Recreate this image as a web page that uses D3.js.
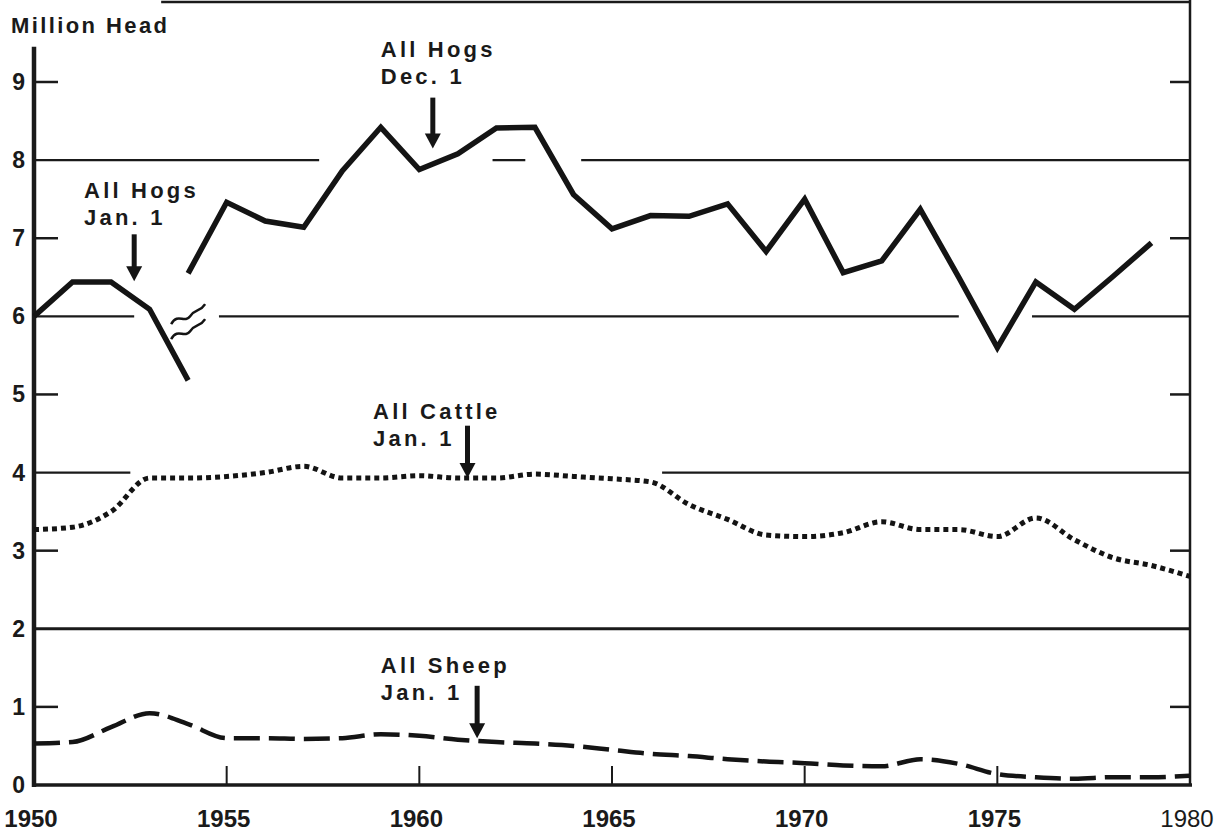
<!DOCTYPE html>
<html>
<head>
<meta charset="utf-8">
<script src="https://d3js.org/d3.v7.min.js"></script>
<style>
  body { margin: 0; background: #fff; }
  text { font-family: "Liberation Sans", Arial, sans-serif; fill: #1a1a1a; }
</style>
</head>
<body>
<svg width="1226" height="834"></svg>
<script>
// ---- data (million head) ----
var hogYearsJan = [1950, 1951, 1952, 1953, 1954];
var hogsJan = [6.0, 6.44, 6.44, 6.09, 5.18];

var hogYearsDec = d3.range(1954, 1980);
var hogsDec = [6.55, 7.46, 7.22, 7.14, 7.86, 8.42, 7.88, 8.08, 8.41, 8.42,
               7.56, 7.12, 7.29, 7.28, 7.44, 6.83, 7.5, 6.56, 6.71, 7.37,
               6.5, 5.6, 6.44, 6.09, 6.51, 6.94];

var years = d3.range(1950, 1981);
var cattle = [3.27, 3.3, 3.5, 3.93, 3.93, 3.95, 4.0, 4.08, 3.93, 3.93,
              3.96, 3.93, 3.93, 3.98, 3.95, 3.92, 3.88, 3.59, 3.4, 3.2,
              3.18, 3.23, 3.37, 3.27, 3.27, 3.18, 3.42, 3.14, 2.91, 2.81, 2.67];
var sheep = [0.53, 0.55, 0.74, 0.92, 0.78, 0.6, 0.6, 0.59, 0.6, 0.65,
             0.63, 0.58, 0.55, 0.53, 0.5, 0.45, 0.4, 0.37, 0.33, 0.3,
             0.28, 0.25, 0.24, 0.33, 0.27, 0.14, 0.1, 0.08, 0.1, 0.1, 0.12];

var yTickLabels = [0, 1, 2, 3, 4, 5, 6, 7, 8, 9];
var yMinorTicks = [1, 3, 5, 7, 9];
var xTickLabels = [1950, 1955, 1960, 1965, 1970, 1975, 1980];

// grid lines are broken where the labels and curves sit: [value, from, to]
var gridSegments = [
  [8, 1950, 1957.4], [8, 1961.9, 1962.75], [8, 1964.2, 1980],
  [6, 1950, 1952.6], [6, 1954.8, 1974.0], [6, 1975.9, 1980],
  [4, 1950, 1952.5], [4, 1966.3, 1980],
  [2, 1950, 1980]
];

var notes = [
  {lines: ["All Hogs", "Jan. 1"], year: 1951.3, value: 7.52, arrowYear: 1952.6, from: 7.05, to: 6.45},
  {lines: ["All Hogs", "Dec. 1"], year: 1959.0, value: 9.32, arrowYear: 1960.35, from: 8.8, to: 8.15},
  {lines: ["All Cattle", "Jan. 1"], year: 1958.8, value: 4.69, arrowYear: 1961.25, from: 4.6, to: 3.93},
  {lines: ["All Sheep", "Jan. 1"], year: 1959.0, value: 1.43, arrowYear: 1961.5, from: 1.27, to: 0.6}
];

// ---- layout ----
var svg = d3.select("svg");
var x = d3.scaleLinear().domain([1950, 1980]).range([34, 1190]);
var y = d3.scaleLinear().domain([0, 9]).range([785, 82]);

// grid
svg.append("g").selectAll("line")
  .data(gridSegments)
  .join("line")
    .attr("x1", function(d) { return x(d[1]); })
    .attr("x2", function(d) { return x(d[2]); })
    .attr("y1", function(d) { return y(d[0]); })
    .attr("y2", function(d) { return y(d[0]); })
    .attr("stroke", "#1a1a1a")
    .attr("stroke-width", function(d) { return d[0] === 2 ? 3 : 2.2; });

// frame: left axis, bottom axis, right side, top
var frame = svg.append("g").attr("stroke", "#1a1a1a").attr("fill", "none");
frame.append("line").attr("x1", x(1950)).attr("x2", x(1950))
  .attr("y1", y(9.45)).attr("y2", y(0) + 2).attr("stroke-width", 4.5);
frame.append("line").attr("x1", x(1950)).attr("x2", x(1980) + 2)
  .attr("y1", y(0)).attr("y2", y(0)).attr("stroke-width", 3.5);
frame.append("line").attr("x1", x(1980)).attr("x2", x(1980))
  .attr("y1", 0).attr("y2", y(0)).attr("stroke-width", 2.5);
frame.append("line").attr("x1", x(1953.3)).attr("x2", x(1980))
  .attr("y1", 2).attr("y2", 2).attr("stroke-width", 2.5);

// ticks
frame.selectAll(".lt").data(yMinorTicks).join("line")
  .attr("x1", x(1950)).attr("x2", x(1950) + 24)
  .attr("y1", function(d) { return y(d); }).attr("y2", function(d) { return y(d); })
  .attr("stroke-width", 2.5);
frame.selectAll(".rt").data(yMinorTicks).join("line")
  .attr("x1", x(1980) - 20).attr("x2", x(1980))
  .attr("y1", function(d) { return y(d); }).attr("y2", function(d) { return y(d); })
  .attr("stroke-width", 2.5);
frame.selectAll(".bt").data(xTickLabels.slice(1, -1)).join("line")
  .attr("x1", function(d) { return x(d); }).attr("x2", function(d) { return x(d); })
  .attr("y1", y(0) - 19).attr("y2", y(0))
  .attr("stroke-width", 2);

// tick labels
svg.append("g").selectAll("text")
  .data(yTickLabels)
  .join("text")
    .attr("x", 25)
    .attr("y", function(d) { return y(d) + 8; })
    .attr("text-anchor", "end")
    .attr("font-size", 23)
    .attr("font-weight", "bold")
    .text(function(d) { return d; });

svg.append("g").selectAll("text")
  .data(xTickLabels)
  .join("text")
    .attr("x", function(d) { return x(d) - 3; })
    .attr("y", 827)
    .attr("text-anchor", "middle")
    .attr("font-size", 24)
    .attr("font-weight", function(d) { return d === 1980 ? "normal" : "bold"; })
    .text(function(d) { return d; });

svg.append("text")
  .attr("x", 11).attr("y", 33)
  .attr("font-size", 22)
  .attr("font-weight", "bold")
  .attr("letter-spacing", 2.4)
  .text("Million Head");

// series
var line = d3.line()
  .x(function(d) { return x(d[0]); })
  .y(function(d) { return y(d[1]); });

var smooth = d3.line()
  .curve(d3.curveMonotoneX)
  .x(function(d) { return x(d[0]); })
  .y(function(d) { return y(d[1]); });

svg.append("path")
  .datum(d3.zip(hogYearsJan, hogsJan))
  .attr("d", line)
  .attr("fill", "none").attr("stroke", "#141414")
  .attr("stroke-width", 5.5).attr("stroke-linejoin", "miter");

svg.append("path")
  .datum(d3.zip(hogYearsDec, hogsDec))
  .attr("d", line)
  .attr("fill", "none").attr("stroke", "#141414")
  .attr("stroke-width", 5.5).attr("stroke-linejoin", "miter");

svg.append("path")
  .datum(d3.zip(years, cattle))
  .attr("d", smooth)
  .attr("fill", "none").attr("stroke", "#141414")
  .attr("stroke-width", 5).attr("stroke-dasharray", "5,4");

svg.append("path")
  .datum(d3.zip(years, sheep))
  .attr("d", smooth)
  .attr("fill", "none").attr("stroke", "#141414")
  .attr("stroke-width", 4.5).attr("stroke-dasharray", "26,9");

// scale-break squiggles between the two hog series
var brk = svg.append("g")
  .attr("transform", "translate(" + x(1954.0) + "," + y(5.9) + ")")
  .attr("fill", "none").attr("stroke", "#141414").attr("stroke-width", 2.5);
[-8, 7].forEach(function(dy) {
  brk.append("path")
    .attr("d", "M-17," + (dy + 8) + " C-10," + (dy - 4) + " -4," + (dy + 8) + " 2," + (dy) +
               " S12," + (dy - 4) + " 17," + (dy - 12));
});

// annotations with arrows
var note = svg.append("g").selectAll("g").data(notes).join("g");
note.each(function(d) {
  var g = d3.select(this);
  d.lines.forEach(function(s, i) {
    g.append("text")
      .attr("x", x(d.year)).attr("y", y(d.value) + i * 27)
      .attr("font-size", 22)
      .attr("font-weight", "bold")
      .attr("letter-spacing", 3.2)
      .text(s);
  });
  var ax = x(d.arrowYear), y0 = y(d.from), y1 = y(d.to);
  g.append("line")
    .attr("x1", ax).attr("x2", ax).attr("y1", y0).attr("y2", y1 - 12)
    .attr("stroke", "#141414").attr("stroke-width", 5);
  g.append("path")
    .attr("d", "M" + (ax - 8) + "," + (y1 - 15) + "L" + (ax + 8) + "," + (y1 - 15) + "L" + ax + "," + y1 + "Z")
    .attr("fill", "#141414");
});
</script>
</body>
</html>
